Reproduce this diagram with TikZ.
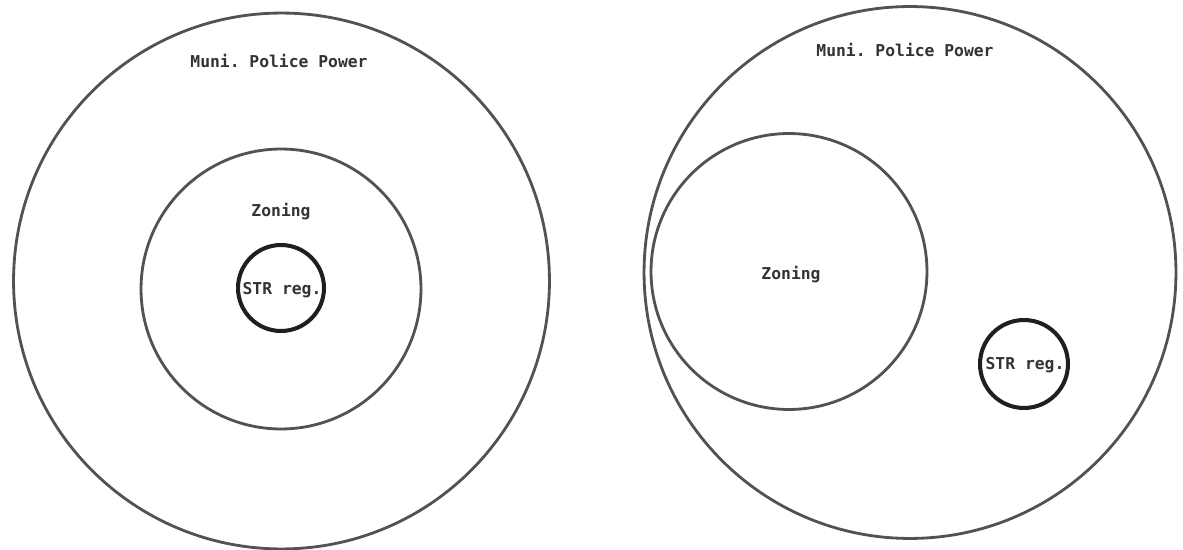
\documentclass[tikz,border=0pt]{standalone}
\usepackage{fontspec}
\setmonofont{DejaVu Sans Mono}
\begin{document}
\begin{tikzpicture}[x=0.02cm,y=0.02cm,
  ring/.style={circle,draw=black!68,line width=1.6pt,inner sep=0pt,outer sep=0pt},
  strring/.style={circle,draw=black!88,line width=2.3pt,inner sep=0pt,outer sep=0pt},
  lbl/.style={font=\ttfamily\bfseries\fontsize{9.3pt}{11pt}\selectfont,text=black!80,inner sep=0pt}]
\useasboundingbox (0,0) rectangle (1183,-550);
% left diagram
\node[ring,minimum size=10.72cm] (lbig) at (281.5,-281) {};
\node[ring,minimum size=5.6cm] (lzon) at (281,-289) {};
\node[strring,minimum size=1.72cm] (lstr) at (281,-288) {};
\node[lbl] (lmuni) at (279,-61) {Muni. Police Power};
\node[lbl] (lzont) at (281,-212) {Zoning};
\node[lbl] (lstrt) at (282,-290) {STR reg.};
% right diagram
\node[ring,minimum size=10.64cm] (rbig) at (910,-272.5) {};
\node[ring,minimum size=5.52cm] (rzon) at (789,-271.5) {};
\node[strring,minimum size=1.76cm] (rstr) at (1024,-364) {};
\node[lbl] (rmuni) at (905,-50) {Muni. Police Power};
\node[lbl] (rzont) at (791,-275) {Zoning};
\node[lbl] (rstrt) at (1025,-365) {STR reg.};
\end{tikzpicture}
\end{document}
